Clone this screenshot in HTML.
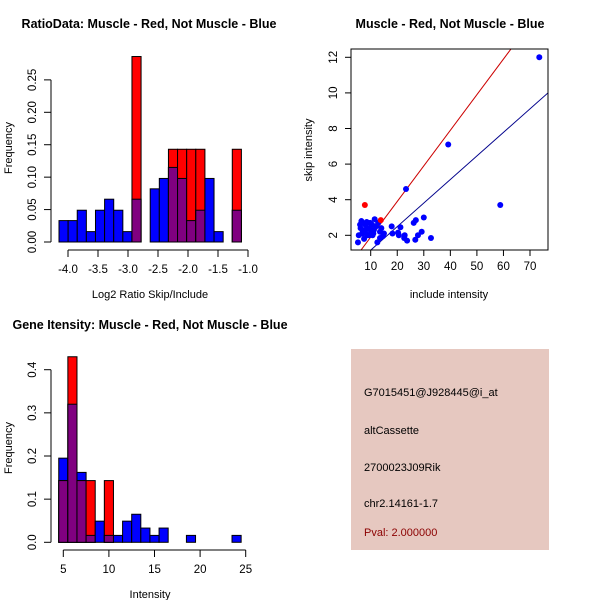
<!DOCTYPE html>
<html><head><meta charset="utf-8"><style>
html,body{margin:0;padding:0;background:#fff}
svg text{font-family:"Liberation Sans",sans-serif;fill:#000}
</style></head><body>
<svg id="c" width="600" height="600" xmlns="http://www.w3.org/2000/svg">
<rect width="600" height="600" fill="#fff"/>
<g id="p1"></g>
<g id="p2"></g>
<g id="p3"></g>
<g>
<rect x="351" y="349" width="198" height="201" fill="#e6c8c0"/>
<text x="364" y="396" font-size="11">G7015451@J928445@i_at</text>
<text x="364" y="434" font-size="11">altCassette</text>
<text x="364" y="471" font-size="11">2700023J09Rik</text>
<text x="364" y="507" font-size="11">chr2.14161-1.7</text>
<text x="364" y="536" font-size="11" style="fill:#8b0000">Pval: 2.000000</text>
</g>
</svg>
<script>
// Panel 1 data: ratio histogram
const ratioBreakStart = -4.15;
const ratioBinWidth = 0.152;
const ratioBlue = [0.033,0.033,0.049,0.016,0.049,0.066,0.049,0.016,0.066,0,0.082,0.098,0.115,0.098,0.033,0.049,0.098,0.016,0,0.049];
const ratioRed  = [0,0,0,0,0,0,0,0,0.286,0,0,0,0.143,0.143,0.143,0.143,0,0,0,0.143];
const ratioXTicks = [-4.0,-3.5,-3.0,-2.5,-2.0,-1.5,-1.0];
const ratioYTicks = [0.00,0.05,0.10,0.15,0.20,0.25];
// Panel 3 data: intensity histogram
const intBreakStart = 4.5;
const intBinWidth = 1;
const intBlue = [0.195,0.32,0.162,0.016,0.049,0.016,0.016,0.049,0.065,0.033,0.016,0.033,0,0,0.016,0,0,0,0,0.016];
const intRed  = [0.143,0.43,0.143,0.143,0,0.143,0,0,0,0,0,0,0,0,0,0,0,0,0,0];
const intXTicks = [5,10,15,20,25];
const intYTicks = [0.0,0.1,0.2,0.3,0.4];
// Panel 2 data: scatter
const blueInclude = [73.5,39.2,23.3,58.8,30,32.7,29.2,27.8,26.8,27,26.2,23.7,22.6,22.8,21.2,20.6,20.3,18.2,17.9,15,14.6,14,12.5,13.5,12,11.5,11,10.5,10,9.5,9,8.5,8,7.5,7,6.5,6,5.5,5.2,6.2,8.8,9.8,12.8,13.5,7.8,11.2,10.7,6.8,8.3];
const blueSkip =    [12,7.1,4.6,3.7,3,1.85,2.2,2.0,1.75,2.85,2.7,1.7,1.85,2.0,2.45,2.0,2.15,2.1,2.5,2.1,1.95,2.4,1.6,1.85,2.5,2.9,2.1,2.6,2.3,2.0,2.4,2.75,2.6,1.8,2.2,2.8,2.6,2.0,1.6,2.4,2.0,2.7,2.7,2.2,2.3,2.3,2.0,2.1,2.1];
const redInclude = [7.8,13.8];
const redSkip = [3.7,2.85];
const redFit = [-0.1,0.2];   // intercept, slope
const blueFit = [-0.157,0.1323];
const scatXTicks = [10,20,30,40,50,60,70];
const scatYTicks = [2,4,6,8,10,12];

const NS="http://www.w3.org/2000/svg";
function mk(parent,tag,attrs,text){const e=document.createElementNS(NS,tag);for(const k in attrs)e.setAttribute(k,attrs[k]);if(text!==undefined)e.textContent=text;parent.appendChild(e);return e;}

function histogram(g,o){
  const sx=v=>o.x0px+(v-o.x0)*o.xs, sy=v=>o.y0px-v*o.ys;
  const n=o.blue.length;
  for(let i=0;i<n;i++){
    const a=o.start+i*o.w, b=a+o.w;
    const bl=o.blue[i], rd=o.red[i], mn=Math.min(bl,rd);
    const layers=[[bl,'#0000ff','blue'],[rd,'#ff0000','red'],[mn,'#800080','overlap']];
    for(const [v,col,nm] of layers){
      if(v<=0)continue;
      const r=mk(g,'rect',{x:sx(a),y:sy(v),width:sx(b)-sx(a),height:sy(0)-sy(v),fill:col,stroke:'#000','stroke-width':1});
      
      
    }
  }
  const xa=mk(g,'g',{});
  
  
  const xt=o.xticks;
  mk(xa,'line',{x1:sx(xt[0]),x2:sx(xt[xt.length-1]),y1:o.xAxisY,y2:o.xAxisY,stroke:'#000'});
  xt.forEach(t=>{mk(xa,'line',{x1:sx(t),x2:sx(t),y1:o.xAxisY,y2:o.xAxisY+7,stroke:'#000'});
    const tx=mk(xa,'text',{x:sx(t),y:o.xAxisY+23,'font-size':11.5,'text-anchor':'middle'},o.xfmt(t));
    
    });
  const ya=mk(g,'g',{});
  
  
  const yt=o.yticks;
  mk(ya,'line',{x1:o.yAxisX,x2:o.yAxisX,y1:sy(yt[0]),y2:sy(yt[yt.length-1]),stroke:'#000'});
  yt.forEach(t=>{mk(ya,'line',{x1:o.yAxisX,x2:o.yAxisX-7,y1:sy(t),y2:sy(t),stroke:'#000'});
    const lx=o.yAxisX-15;
    const tx=mk(ya,'text',{x:lx,y:sy(t),'font-size':11.5,'text-anchor':'middle',transform:`rotate(-90 ${lx} ${sy(t)})`},o.yfmt(t));
    
    });
}

const p1=document.getElementById('p1');
histogram(p1,{x0:-4,x0px:68,xs:60,y0px:242,ys:648.5,start:ratioBreakStart,w:ratioBinWidth,blue:ratioBlue,red:ratioRed,
  xticks:ratioXTicks,yticks:ratioYTicks,xAxisY:250,yAxisX:51,xfmt:t=>t.toFixed(1),yfmt:t=>t.toFixed(2)});
const t1=mk(p1,'text',{x:149,y:28,'font-size':12.5,'font-weight':'bold','text-anchor':'middle'},'RatioData: Muscle - Red, Not Muscle - Blue');


const xl1=mk(p1,'text',{x:150,y:298,'font-size':11,'text-anchor':'middle'},'Log2 Ratio Skip/Include');


const yl1=mk(p1,'text',{x:12,y:148,'font-size':11,'text-anchor':'middle',transform:'rotate(-90 12 148)'},'Frequency');



const p3=document.getElementById('p3');
histogram(p3,{x0:5,x0px:63.3,xs:9.12,y0px:542.3,ys:431.5,start:intBreakStart,w:intBinWidth,blue:intBlue,red:intRed,
  xticks:intXTicks,yticks:intYTicks,xAxisY:550,yAxisX:51,xfmt:t=>String(t),yfmt:t=>t.toFixed(1)});
const t3=mk(p3,'text',{x:150,y:329,'font-size':12.5,'font-weight':'bold','text-anchor':'middle'},'Gene Itensity: Muscle - Red, Not Muscle - Blue');


const xl3=mk(p3,'text',{x:150,y:598,'font-size':11,'text-anchor':'middle'},'Intensity');


const yl3=mk(p3,'text',{x:12,y:448,'font-size':11,'text-anchor':'middle',transform:'rotate(-90 12 448)'},'Frequency');



// Scatter
const p2=document.getElementById('p2');
const X=v=>370.7+(v-10)*2.655, Y=v=>235.3-(v-2)*17.8;
const L=351,R=548,T=49,B=250;
const defs=mk(p2,'clipPath',{id:'clip2'});mk(defs,'rect',{x:L,y:T,width:R-L,height:B-T});
const lg=mk(p2,'g',{'clip-path':'url(#clip2)'});
[[redFit,'#cc0000','red-fit-line'],[blueFit,'#00008b','blue-fit-line']].forEach(([f,c,nm])=>{
  const x1=0,x2=100;
  const ln=mk(lg,'line',{x1:X(x1),y1:Y(f[0]+f[1]*x1),x2:X(x2),y2:Y(f[0]+f[1]*x2),stroke:c,'stroke-width':1});
  
  
});
blueInclude.forEach((v,i)=>{const c=mk(p2,'circle',{cx:X(v),cy:Y(blueSkip[i]),r:3,fill:'#0000ff'});
  
  });
redInclude.forEach((v,i)=>{const c=mk(p2,'circle',{cx:X(v),cy:Y(redSkip[i]),r:3,fill:'#ff0000'});
  
  });
const box=mk(p2,'rect',{x:L,y:T,width:R-L,height:B-T,fill:'none',stroke:'#000'});


scatXTicks.forEach(t=>{mk(p2,'line',{x1:X(t),x2:X(t),y1:B,y2:B+6,stroke:'#000'});
  const tx=mk(p2,'text',{x:X(t),y:B+20,'font-size':11.5,'text-anchor':'middle'},String(t));
  
  });
scatYTicks.forEach(t=>{mk(p2,'line',{x1:L,x2:L-6,y1:Y(t),y2:Y(t),stroke:'#000'});
  const lx=L-14;
  const tx=mk(p2,'text',{x:lx,y:Y(t),'font-size':11.5,'text-anchor':'middle',transform:`rotate(-90 ${lx} ${Y(t)})`},String(t));
  
  });
const t2=mk(p2,'text',{x:450,y:28,'font-size':12.5,'font-weight':'bold','text-anchor':'middle'},'Muscle - Red, Not Muscle - Blue');


const xl2=mk(p2,'text',{x:449,y:298,'font-size':11,'text-anchor':'middle'},'include intensity');


const yl2=mk(p2,'text',{x:312,y:150,'font-size':11,'text-anchor':'middle',transform:'rotate(-90 312 150)'},'skip intensity');


</script>
</body></html>
